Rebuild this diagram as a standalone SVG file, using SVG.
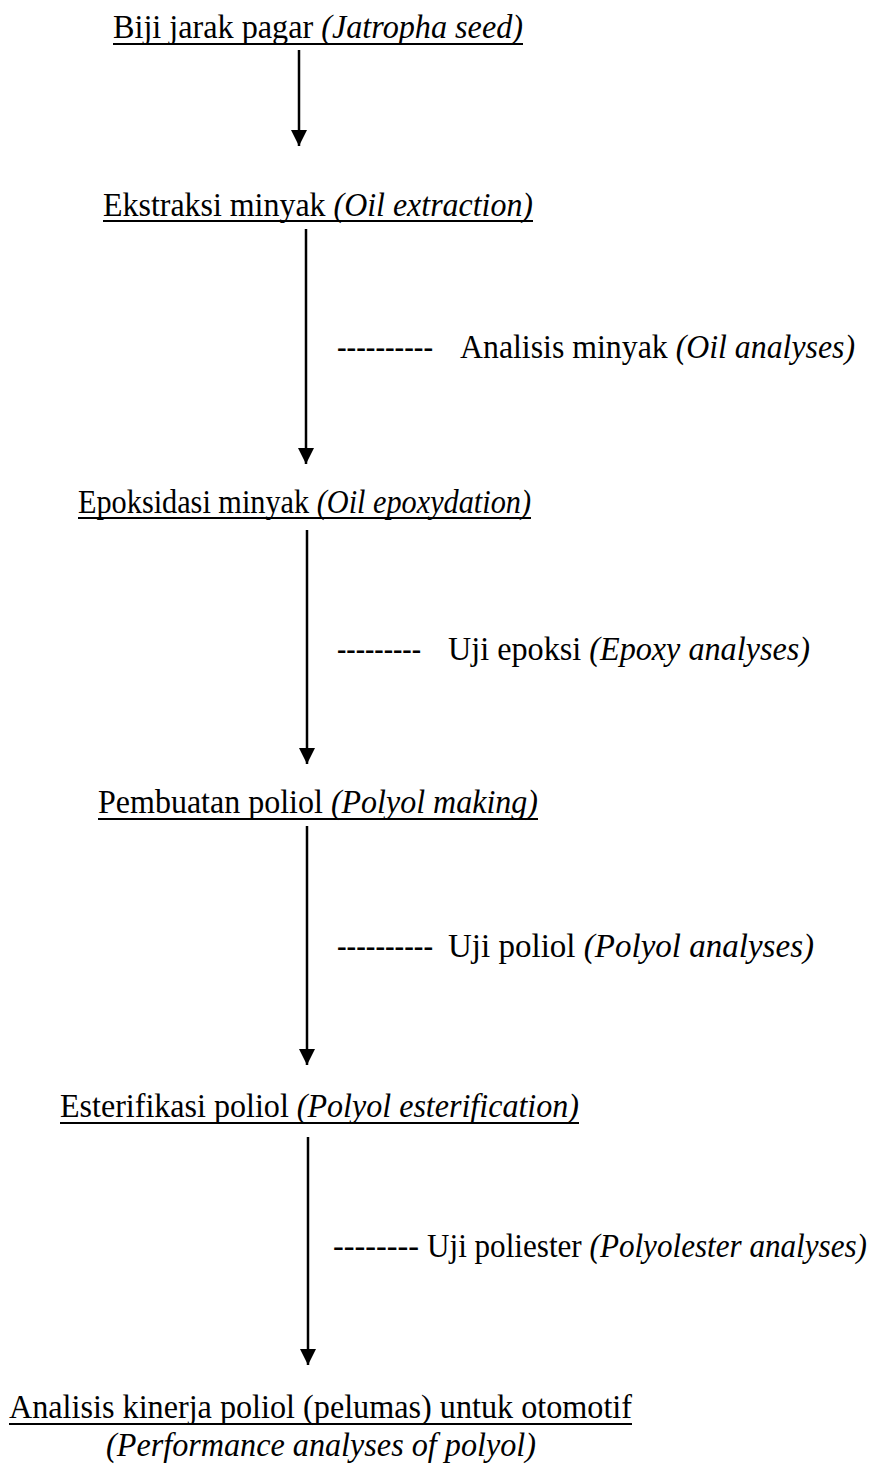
<svg xmlns="http://www.w3.org/2000/svg" width="886" height="1479" viewBox="0 0 886 1479">
<style>
text{font-family:"Liberation Serif","Times New Roman",serif;font-size:33px;fill:#000}
.i{font-style:italic}
.ul{stroke:#000;stroke-width:2}
.arr{stroke:#000;stroke-width:2.5;fill:none;marker-end:url(#ah)}
</style>
<defs>
<marker id="ah" markerUnits="userSpaceOnUse" markerWidth="17" markerHeight="17" refX="16" refY="8" orient="auto" viewBox="0 0 17 16">
<path d="M0,0 L16,8 L0,16 Z" fill="#000"/>
</marker>
</defs>
<rect width="886" height="1479" fill="#fff"/>
<g id="n1">
<text x="113" y="38" textLength="410" lengthAdjust="spacingAndGlyphs">Biji jarak pagar <tspan class="i">(Jatropha seed)</tspan></text>
<line class="ul" x1="113" y1="44" x2="523" y2="44"/>
</g>
<g id="n2">
<text x="103" y="216" textLength="430" lengthAdjust="spacingAndGlyphs">Ekstraksi minyak <tspan class="i">(Oil extraction)</tspan></text>
<line class="ul" x1="103" y1="221" x2="533" y2="221"/>
</g>
<g id="l1">
<text x="337" y="358" textLength="96" lengthAdjust="spacingAndGlyphs">----------</text>
<text x="460" y="358" textLength="395" lengthAdjust="spacingAndGlyphs">Analisis minyak <tspan class="i">(Oil analyses)</tspan></text>
</g>
<g id="n3">
<text x="78" y="513" textLength="453" lengthAdjust="spacingAndGlyphs">Epoksidasi minyak <tspan class="i">(Oil epoxydation)</tspan></text>
<line class="ul" x1="78" y1="518" x2="531" y2="518"/>
</g>
<g id="l2">
<text x="337" y="660" textLength="84" lengthAdjust="spacingAndGlyphs">---------</text>
<text x="448" y="660" textLength="362" lengthAdjust="spacingAndGlyphs">Uji epoksi <tspan class="i">(Epoxy analyses)</tspan></text>
</g>
<g id="n4">
<text x="98" y="813" textLength="440" lengthAdjust="spacingAndGlyphs">Pembuatan poliol <tspan class="i">(Polyol making)</tspan></text>
<line class="ul" x1="98" y1="819" x2="538" y2="819"/>
</g>
<g id="l3">
<text x="337" y="957" textLength="96" lengthAdjust="spacingAndGlyphs">----------</text>
<text x="448" y="957" textLength="366" lengthAdjust="spacingAndGlyphs">Uji poliol <tspan class="i">(Polyol analyses)</tspan></text>
</g>
<g id="n5">
<text x="60" y="1117" textLength="519" lengthAdjust="spacingAndGlyphs">Esterifikasi poliol <tspan class="i">(Polyol esterification)</tspan></text>
<line class="ul" x1="60" y1="1123" x2="579" y2="1123"/>
</g>
<g id="l4">
<text x="333" y="1257" textLength="86" lengthAdjust="spacingAndGlyphs">--------</text>
<text x="427" y="1257" textLength="440" lengthAdjust="spacingAndGlyphs">Uji poliester <tspan class="i">(Polyolester analyses)</tspan></text>
</g>
<g id="n6">
<text x="9" y="1418" textLength="623" lengthAdjust="spacingAndGlyphs">Analisis kinerja poliol (pelumas) untuk otomotif</text>
<line class="ul" x1="9" y1="1424" x2="632" y2="1424"/>
<text class="i" x="106" y="1456" textLength="430" lengthAdjust="spacingAndGlyphs">(Performance analyses of polyol)</text>
</g>
<g id="connectors">
<line class="arr" x1="299" y1="50" x2="299" y2="146"/>
<line class="arr" x1="306" y1="229" x2="306" y2="464"/>
<line class="arr" x1="307" y1="530" x2="307" y2="764"/>
<line class="arr" x1="307" y1="826" x2="307" y2="1065"/>
<line class="arr" x1="308" y1="1137" x2="308" y2="1365"/>
</g>
</svg>
